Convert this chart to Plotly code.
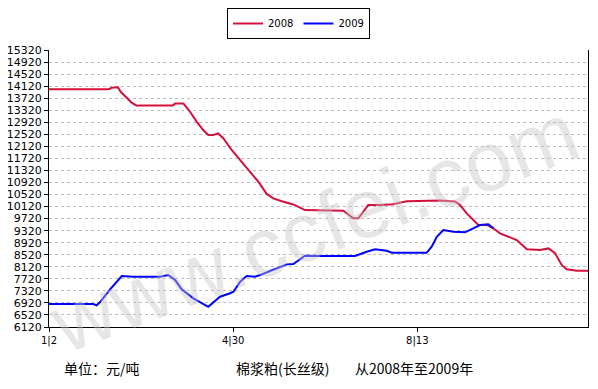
import plotly.graph_objects as go

# x positions are trading-day style indices along the axis (0 = 1/2)
x_2008 = [0, 20, 21, 23, 24, 26.5, 27.7, 29.3, 30.4, 41.3, 42.1, 44.9, 47.1, 49.3, 51.5, 53.2,
          54.9, 56.5, 58.2, 61, 63.8, 67.1, 69.9, 72.7, 74.9, 78.3, 81.6, 85.5, 90.5, 94.4,
          98.3, 101.6, 103.3, 105, 106.6, 110.5, 114.9, 119.5, 130.6, 135.6, 137.3, 139.5,
          141.7, 143.4, 146.2, 148.4, 150.6, 153.4, 156.2, 159.6, 164, 166.8, 169, 171.2,
          172.9, 176.3, 180]
y_2008 = [14020, 14020, 14070, 14080, 13925, 13660, 13560, 13470, 13480, 13480, 13540, 13540,
          13270, 12940, 12660, 12500, 12500, 12550, 12390, 12000, 11670, 11280, 10945, 10540,
          10390, 10280, 10190, 10005, 10005, 10005, 9980, 9730, 9730, 9950, 10170, 10170,
          10200, 10300, 10320, 10290, 10170, 9895, 9670, 9510, 9510, 9400, 9230, 9120, 9010,
          8700, 8680, 8730, 8570, 8180, 8035, 7990, 7990]

x_2009 = [0, 14.8, 15.9, 17, 20.4, 24.3, 28.2, 37.1, 39.8, 42.1, 44.3, 48.2, 53.2, 57.1, 60.5,
          61.6, 63.8, 66, 68.8, 70.5, 73.8, 77.2, 79.4, 81.6, 85.5, 90.5, 102.2, 106.1, 108.9,
          112.8, 114.5, 126.1, 127.8, 129.5, 131.7, 135, 138.9, 141.7, 143.9, 146.7, 148.4]
y_2009 = [6880, 6880, 6840, 6940, 7370, 7810, 7790, 7790, 7845, 7680, 7370, 7070, 6790, 7125,
          7240, 7290, 7620, 7810, 7790, 7845, 7980, 8120, 8200, 8210, 8490, 8476, 8476, 8620,
          8700, 8650, 8585, 8585, 8785, 9118, 9340, 9284, 9264, 9397, 9507, 9530, 9397]

y_ticks = list(range(6120, 15321, 400))
y_tick_text = [str(v) for v in y_ticks]
x_tick_vals = [0, 61.5, 123]
x_tick_text = ["1|2", "4|30", "8|13"]

# the page body adds an 8 px offset; layout is expressed in figure pixels
OFF = 8
W, H = 598 - OFF, 389 - OFF
PL, PR, PT, PB = 49 - OFF, 588 - OFF, 50 - OFF, 327 - OFF


def px(xs):
    return (xs - OFF - PL) / (PR - PL)


def py(ys):
    return (PB - (ys - OFF)) / (PB - PT)


fig = go.Figure()
fig.add_trace(go.Scatter(x=x_2008, y=y_2008, mode="lines", name="2008",
                         line=dict(color="#d6103c", width=2)))
fig.add_trace(go.Scatter(x=x_2009, y=y_2009, mode="lines", name="2009",
                         line=dict(color="#0000ff", width=2)))

fig.update_layout(
    width=W, height=H,
    margin=dict(l=PL, r=W - PR, t=PT, b=H - PB, autoexpand=False),
    paper_bgcolor="white", plot_bgcolor="white",
    font=dict(family="DejaVu Sans", size=11, color="black"),
    showlegend=True,
    legend=dict(orientation="h", xref="container", yref="container",
                x=(298.5 - OFF) / W, xanchor="center", y=1.0, yanchor="top",
                bordercolor="black", borderwidth=1, bgcolor="white",
                font=dict(family="DejaVu Sans", size=10, color="black"),
                itemwidth=30),
    xaxis=dict(range=[0, 180], showgrid=False, zeroline=False, automargin=False,
               showline=True, linecolor="black", linewidth=1, mirror=False,
               tickmode="array", tickvals=x_tick_vals, ticktext=x_tick_text,
               ticks="outside", ticklen=4, tickcolor="black",
               tickfont=dict(family="DejaVu Sans", size=10, color="black")),
    yaxis=dict(range=[6120, 15320], showgrid=True, gridcolor="#bdbdbd",
               griddash="dot", gridwidth=1, zeroline=False, automargin=False,
               showline=True, linecolor="black", linewidth=1, mirror=True,
               tickmode="array", tickvals=y_ticks, ticktext=y_tick_text,
               ticks="outside", ticklen=4, tickcolor="black",
               tickfont=dict(family="DejaVu Sans", size=11, color="black")),
)

# watermark
fig.add_annotation(text="www.ccfei.com", xref="paper", yref="paper",
                   x=px(314), y=py(228), showarrow=False, textangle=-21,
                   font=dict(family="Liberation Sans", size=84, color="rgba(195,195,195,0.42)"))

# bottom captions
cap_font = dict(family="Noto Sans CJK SC", size=14, color="black")
fig.add_annotation(text="单位：元/吨", xref="paper", yref="paper",
                   x=px(62), xanchor="left", y=py(368), yanchor="middle",
                   showarrow=False, font=cap_font)
fig.add_annotation(text="棉浆粕(长丝级)", xref="paper", yref="paper",
                   x=px(234), xanchor="left", y=py(368), yanchor="middle",
                   showarrow=False, font=cap_font)
fig.add_annotation(text="从2008年至2009年", xref="paper", yref="paper",
                   x=px(353), xanchor="left", y=py(368), yanchor="middle",
                   showarrow=False, font=cap_font)

fig.write_html("out.html")
